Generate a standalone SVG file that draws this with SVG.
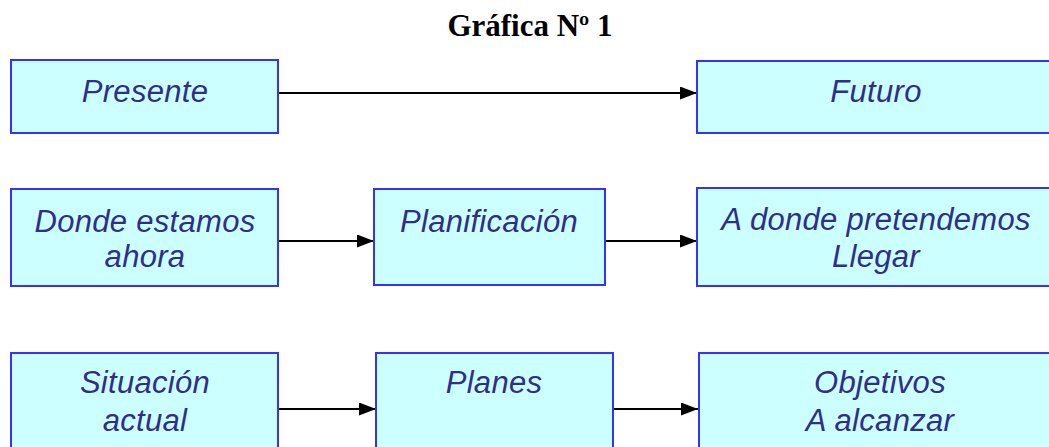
<svg xmlns="http://www.w3.org/2000/svg" width="1049" height="447" viewBox="0 0 1049 447">
<style>
.box{fill:#ccffff;stroke:#3333ff;stroke-width:2}
.t{font-family:"Liberation Sans",Arial,sans-serif;font-style:italic;font-size:31px;letter-spacing:0.3px;fill:#2f2f8a;text-anchor:middle}
.c{stroke:#000;stroke-width:2;fill:none}
.title{font-family:"Liberation Serif","Times New Roman",serif;font-weight:bold;font-size:31px;fill:#000;text-anchor:middle}
</style>
<defs>
<marker id="ah" markerWidth="17" markerHeight="13" refX="17" refY="6.5" orient="auto" markerUnits="userSpaceOnUse">
<path d="M0,0 L17,6.5 L0,13 Z" fill="#000"/>
</marker>
</defs>
<text class="title" x="530" y="36">Gráfica Nº 1</text>
<g id="connectors">
<line class="c" x1="279" y1="93" x2="697" y2="93" marker-end="url(#ah)"/>
<line class="c" x1="279" y1="241" x2="374" y2="241" marker-end="url(#ah)"/>
<line class="c" x1="606" y1="241" x2="697" y2="241" marker-end="url(#ah)"/>
<line class="c" x1="279" y1="409" x2="376" y2="409" marker-end="url(#ah)"/>
<line class="c" x1="614" y1="409" x2="698" y2="409" marker-end="url(#ah)"/>
</g>
<g id="presente"><rect class="box" x="11" y="60" width="267" height="73"/><text class="t" x="145" y="102">Presente</text></g>
<g id="futuro"><rect class="box" x="697" y="61" width="362" height="72"/><text class="t" x="876" y="102">Futuro</text></g>
<g id="donde"><rect class="box" x="11" y="189" width="267" height="97"/><text class="t" x="145" y="232">Donde estamos</text><text class="t" x="145" y="267">ahora</text></g>
<g id="planificacion"><rect class="box" x="374" y="189" width="231" height="96"/><text class="t" x="489" y="232">Planificación</text></g>
<g id="adonde"><rect class="box" x="697" y="188" width="362" height="98"/><text class="t" x="876" y="230">A donde pretendemos</text><text class="t" x="876" y="267">Llegar</text></g>
<g id="situacion"><rect class="box" x="11" y="353" width="267" height="110"/><text class="t" x="145" y="393">Situación</text><text class="t" x="145" y="431">actual</text></g>
<g id="planes"><rect class="box" x="376" y="353" width="237" height="110"/><text class="t" x="494" y="393">Planes</text></g>
<g id="objetivos"><rect class="box" x="699" y="353" width="362" height="110"/><text class="t" x="880" y="393">Objetivos</text><text class="t" x="880" y="431">A alcanzar</text></g>
</svg>
